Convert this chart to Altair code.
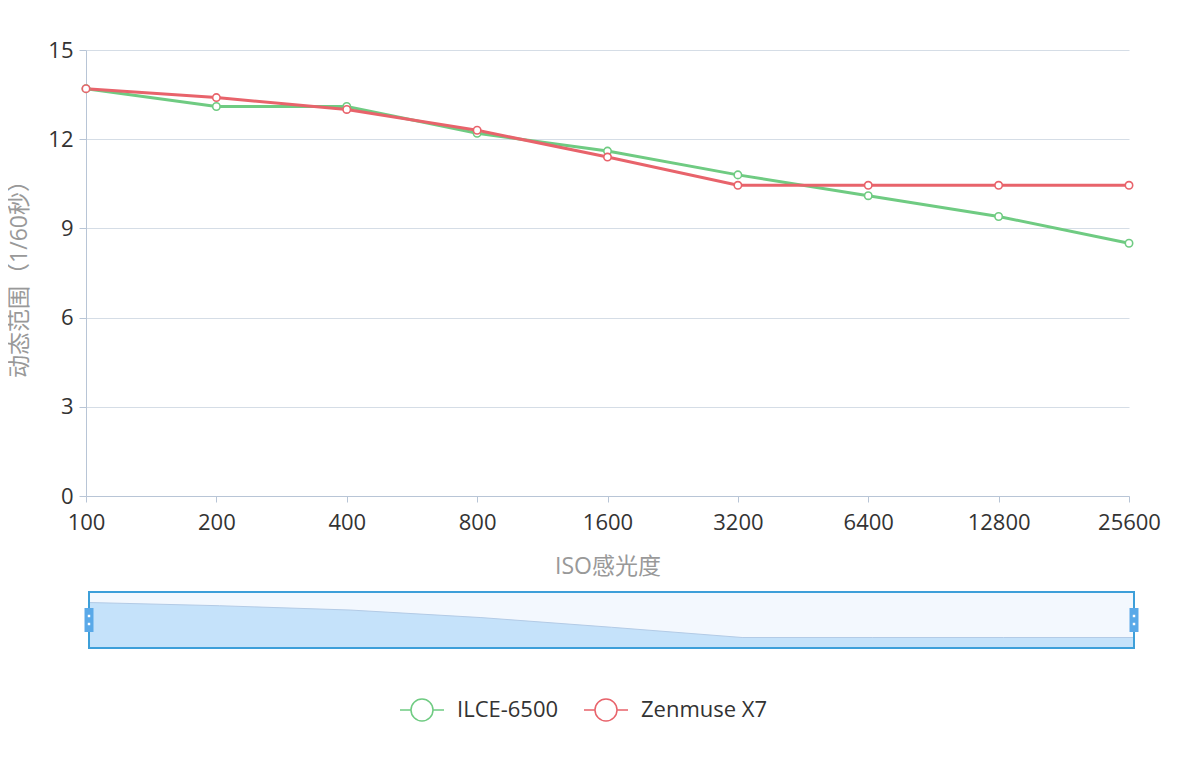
import altair as alt
import pandas as pd

iso = ["100", "200", "400", "800", "1600", "3200", "6400", "12800", "25600"]
ilce = [13.7, 13.1, 13.1, 12.2, 11.6, 10.8, 10.1, 9.4, 8.5]
zen = [13.7, 13.4, 13.0, 12.3, 11.4, 10.45, 10.45, 10.45, 10.45]
series = ["ILCE-6500", "Zenmuse X7"]
colors = ["#6fcb82", "#e8636b"]
y_ticks = [0, 3, 6, 9, 12, 15]

FONT = "Open Sans, Noto Sans CJK SC, sans-serif"

rows = []
for i, s in enumerate(iso):
    rows.append({"iso": s, "series": series[0], "value": ilce[i]})
    rows.append({"iso": s, "series": series[1], "value": zen[i]})
df = pd.DataFrame(rows)

# dataZoom shadow: first-series extent with 30% padding (as in the source)
zmin, zmax = min(zen), max(zen)
pad = 0.3 * (zmax - zmin)
zlo, zhi = zmin - pad, zmax + pad
zoom_df = pd.DataFrame({"idx": list(range(len(iso))), "zv": zen, "base": [zlo] * len(iso)})
box_df = pd.DataFrame({"x0": [0], "x1": [len(iso) - 1], "y0": [zlo], "y1": [zhi]})
handle_df = pd.DataFrame({"hx": [0, len(iso) - 1], "hy": [(zlo + zhi) / 2] * 2})

axis_col = "#b8c5d6"

x_enc = alt.X(
    "iso:N", sort=iso,
    scale=alt.Scale(type="point", padding=0),
    axis=alt.Axis(title="ISO感光度", labelAngle=0, labelFontSize=22, labelColor="#333",
                  labelPadding=10, tickSize=6, tickColor=axis_col, domainColor=axis_col,
                  titleFontSize=23, titleColor="#999", titleFontWeight="normal",
                  titlePadding=22, grid=False, labelFont=FONT, titleFont=FONT),
)
y_enc = alt.Y(
    "value:Q", scale=alt.Scale(domain=[0, 15], nice=False),
    axis=alt.Axis(title="动态范围（1/60秒）", values=y_ticks, labelFontSize=22, labelColor="#333",
                  labelPadding=6, tickSize=7, tickColor=axis_col, domainColor=axis_col,
                  gridColor="#d5dde6", titleFontSize=23, titleColor="#999",
                  titleFontWeight="normal", titlePadding=16, labelFont=FONT, titleFont=FONT),
)
color_enc = alt.Color("series:N", scale=alt.Scale(domain=series, range=colors), title=None)

base = alt.Chart(df).encode(x=x_enc, y=y_enc, color=color_enc)
lines = base.mark_line(strokeWidth=3)
points = base.mark_point(filled=False, fill="white", fillOpacity=1, size=55, strokeWidth=1.6, opacity=1)
main = alt.layer(lines, points).properties(width=1043, height=446)

zx = alt.Scale(domain=[-0.023, len(iso) - 1], nice=False, zero=False)
zy = alt.Scale(domain=[zlo, zhi], nice=False, zero=False)

bg = alt.Chart(box_df).mark_rect(fill="#f3f8fe").encode(
    x=alt.X("x0:Q", scale=zx, axis=None), x2="x1:Q",
    y=alt.Y("y0:Q", scale=zy, axis=None), y2="y1:Q")
area = alt.Chart(zoom_df).mark_area(fill="#c5e2fa", stroke="#b3cbe6", strokeWidth=1, opacity=1).encode(
    x=alt.X("idx:Q", scale=zx, axis=None),
    y=alt.Y("zv:Q", scale=zy, axis=None), y2="base:Q")
border = alt.Chart(box_df).mark_rect(fill=None, stroke="#3d9fd9", strokeWidth=2).encode(
    x=alt.X("x0:Q", scale=zx, axis=None), x2="x1:Q",
    y=alt.Y("y0:Q", scale=zy, axis=None), y2="y1:Q")
handles = alt.Chart(handle_df).mark_rect(width=9, height=24, color="#5aa9e8", opacity=1).encode(
    x=alt.X("hx:Q", scale=zx, axis=None), y=alt.Y("hy:Q", scale=zy, axis=None))
dots_up = alt.Chart(handle_df).mark_square(size=6, color="white", opacity=1, yOffset=-4).encode(
    x=alt.X("hx:Q", scale=zx, axis=None), y=alt.Y("hy:Q", scale=zy, axis=None))
dots_dn = alt.Chart(handle_df).mark_square(size=6, color="white", opacity=1, yOffset=4).encode(
    x=alt.X("hx:Q", scale=zx, axis=None), y=alt.Y("hy:Q", scale=zy, axis=None))
zoom = alt.layer(bg, area, border, handles, dots_up, dots_dn).properties(width=1048, height=56)

legend_symbol = "M-1,0H-0.5M0.5,0H1M0.5,0A0.5,0.5,0,1,1,-0.5,0A0.5,0.5,0,1,1,0.5,0"

chart = alt.vconcat(main, zoom, spacing=96, bounds="flush").resolve_scale(
    x="independent", y="independent"
).properties(
    padding={"left": 0, "top": 31, "right": 10, "bottom": 10},
    background="white",
).configure_view(stroke=None).configure_legend(
    orient="none", legendX=313, legendY=637, direction="horizontal",
    symbolType=legend_symbol, symbolSize=1936, symbolStrokeWidth=1.5,
    symbolFillColor="white", labelFontSize=22, labelColor="#333", labelFont=FONT,
    columnPadding=22, labelOffset=12, symbolOpacity=1,
)

chart.save("out.html", embed_options={"renderer": "svg", "actions": False})
